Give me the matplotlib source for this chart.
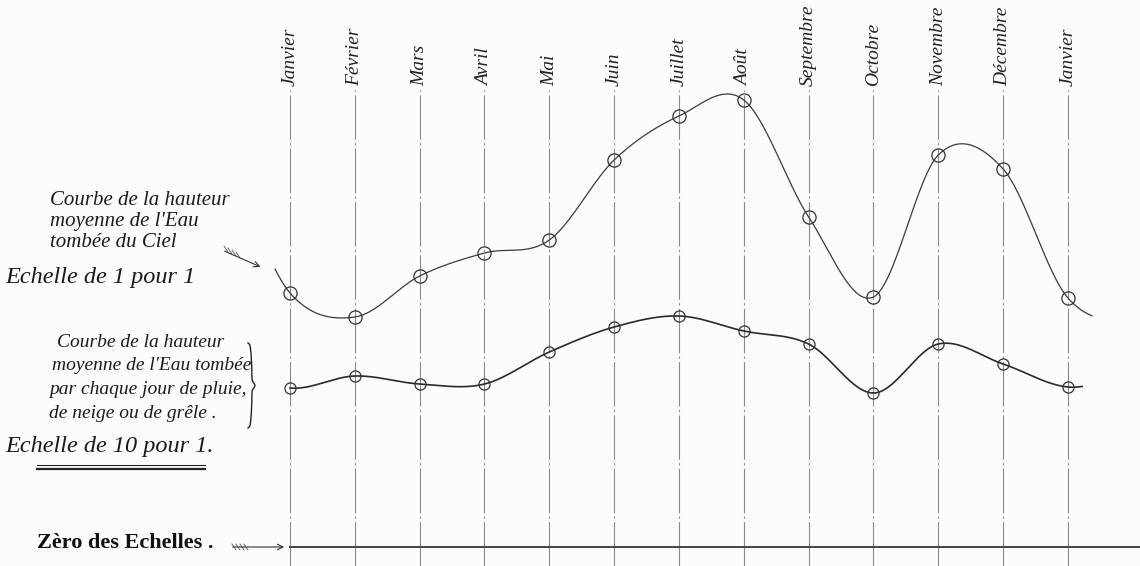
import numpy as np
import matplotlib
matplotlib.use('Agg')
import matplotlib.pyplot as plt

# mois (la courbe revient sur Janvier en fin d'annee)
mois = ['Janvier', 'Février', 'Mars', 'Avril', 'Mai', 'Juin', 'Juillet', 'Août',
        'Septembre', 'Octobre', 'Novembre', 'Décembre', 'Janvier']
# hauteur moyenne de l'eau tombee du ciel (echelle de 1 pour 1)
hauteur_mois = [254, 230, 271, 294, 307, 387, 431, 447, 330, 250, 392, 378, 249]
# hauteur moyenne par jour de pluie, neige ou grele (echelle de 10 pour 1)
hauteur_jour = [159, 171, 163, 163, 195, 220, 231, 216, 203, 154, 203, 183, 160]

# page geometry (pixels of the 1140x566 sheet)
X0, DX, Y0 = 290, 64.83, 547


def px(x, y):
    return (x - X0) / DX, Y0 - y


def courbe(y, t0, t1, n=800):
    # catmull-rom through the monthly points, wrapping the year for the ends
    y = np.asarray(y, float)
    yy = np.concatenate([[y[-3], y[-2]], y, [y[1], y[2]]])
    xs = np.linspace(t0, t1, n)
    out = []
    for x in xs:
        i = int(np.floor(x))
        if i >= 12 and x <= 12:
            i = 11
        t = x - i
        p0, p1, p2, p3 = yy[i + 1], yy[i + 2], yy[i + 3], yy[i + 4]
        out.append(0.5 * (2 * p1 + (-p0 + p2) * t
                          + (2 * p0 - 5 * p1 + 4 * p2 - p3) * t ** 2
                          + (-p0 + 3 * p1 - 3 * p2 + p3) * t ** 3))
    return xs, np.array(out)


plt.rcParams['font.family'] = ['Liberation Serif', 'DejaVu Serif']

fig = plt.figure(figsize=(11.4, 5.66), dpi=100, facecolor='#fcfcfb')
ax = fig.add_axes([0, 0, 1, 1])
ax.set_facecolor('#fcfcfb')
ax.set_xlim(px(0, 0)[0], px(1140, 0)[0])
ax.set_ylim(Y0 - 566, Y0)
ax.axis('off')

x = np.arange(len(mois))

# month rules
for i in x:
    ax.plot([i, i], [Y0 - 566, Y0 - 90], color='#8a8a8a', lw=0.8,
            dashes=(40, 3, 2, 3), zorder=1)

# month names
for i, m in zip(x, mois):
    ax.text(i, Y0 - 86, m, rotation=90, rotation_mode='anchor',
            ha='left', va='center', fontsize=14, style='italic', color='#222')

# curves
cx, cy = courbe(hauteur_mois, -0.23, 12.37)
ax.plot(cx, cy, color='#3a3a3a', lw=0.9, zorder=2)
ax.plot(x, hauteur_mois, 'o', ms=9.5, mfc='none', mec='#333', mew=0.9, zorder=3)

cx, cy = courbe(hauteur_jour, 0, 12.22)
ax.plot(cx, cy, color='#2a2a2a', lw=1.2, zorder=2)
ax.plot(x, hauteur_jour, 'o', ms=8, mfc='none', mec='#333', mew=0.9, zorder=3)

# zero line
ax.plot([0, px(1140, 0)[0]], [0, 0], color='#444', lw=1.4, zorder=2)

# left legends
txt = dict(style='italic', color='#1a1a1a', va='baseline', ha='left')
for s, xx, yy in [('Courbe de la hauteur', 50, 205),
                  ("moyenne de l'Eau", 50, 226),
                  ('tombée du Ciel', 50, 247)]:
    ax.text(*px(xx, yy), s, fontsize=15, **txt)
ax.text(*px(5, 283), 'Echelle de 1 pour 1', fontsize=17.5, **txt)

for s, xx, yy in [('Courbe de la hauteur', 57, 347),
                  ("moyenne de l'Eau tombée", 52, 370),
                  ('par chaque jour de pluie,', 49, 394),
                  ('de neige ou de grêle .', 49, 418)]:
    ax.text(*px(xx, yy), s, fontsize=14, **txt)
ax.text(*px(5, 452), 'Echelle de 10 pour 1.', fontsize=17.5, **txt)
ax.plot(*zip(px(37, 465), px(205, 465)), color='#222', lw=0.8)
ax.plot(*zip(px(37, 468.5), px(205, 468.5)), color='#222', lw=1.6)

ax.text(*px(37, 548), 'Zèro des Echelles .', fontsize=16, color='#111',
        va='baseline', ha='left', fontweight='bold')

# brace
t = np.linspace(0, 1, 60)
bx = 248 + 4 * np.sin(np.pi * t) ** 0.3 + 3 * np.exp(-((t - 0.5) / 0.04) ** 2)
by = 343 + 85 * t
ax.plot(*px(bx, by), color='#222', lw=1.0)

# arrows
ax.annotate('', xy=px(263, 268), xytext=px(222, 250),
            arrowprops=dict(arrowstyle='->', color='#333', lw=0.8))
ax.annotate('', xy=px(287, 547), xytext=px(230, 547),
            arrowprops=dict(arrowstyle='->', color='#333', lw=0.8))
for k in range(4):
    ax.plot(*zip(px(224 + 4 * k, 246 + 2 * k), px(228 + 4 * k, 252 + 2 * k)),
            color='#555', lw=0.6)
    ax.plot(*zip(px(232 + 4 * k, 544), px(236 + 4 * k, 550)), color='#555', lw=0.6)

fig.savefig('out.png', dpi=100, facecolor=fig.get_facecolor())
